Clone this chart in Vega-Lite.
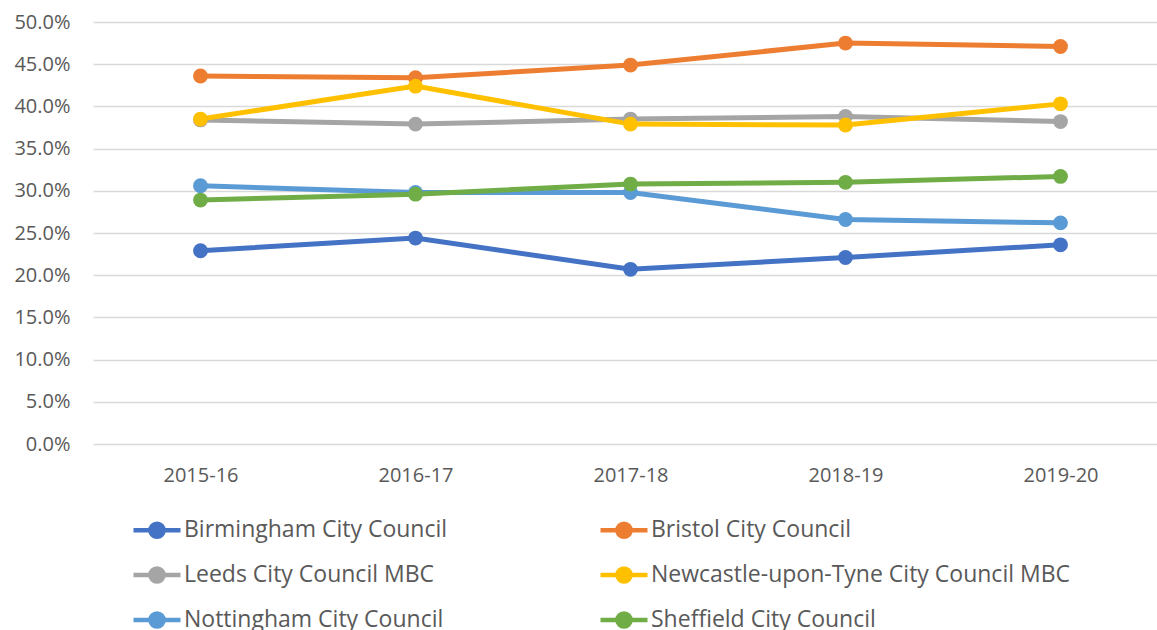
{
  "$schema": "https://vega.github.io/schema/vega-lite/v6.json",
  "autosize": {"type": "none"},
  "padding": {"left": 93, "top": 22, "right": 0, "bottom": 186},
  "width": 1075,
  "height": 422,
  "background": "white",
  "config": {"view": {"stroke": null}, "font": "Open Sans"},
  "data": {"values": [
    {"year": "2015-16", "council": "Birmingham City Council", "value": 0.229},
    {"year": "2016-17", "council": "Birmingham City Council", "value": 0.244},
    {"year": "2017-18", "council": "Birmingham City Council", "value": 0.207},
    {"year": "2018-19", "council": "Birmingham City Council", "value": 0.221},
    {"year": "2019-20", "council": "Birmingham City Council", "value": 0.236},
    {"year": "2015-16", "council": "Bristol City Council", "value": 0.436},
    {"year": "2016-17", "council": "Bristol City Council", "value": 0.434},
    {"year": "2017-18", "council": "Bristol City Council", "value": 0.449},
    {"year": "2018-19", "council": "Bristol City Council", "value": 0.475},
    {"year": "2019-20", "council": "Bristol City Council", "value": 0.471},
    {"year": "2015-16", "council": "Leeds City Council MBC", "value": 0.384},
    {"year": "2016-17", "council": "Leeds City Council MBC", "value": 0.379},
    {"year": "2017-18", "council": "Leeds City Council MBC", "value": 0.385},
    {"year": "2018-19", "council": "Leeds City Council MBC", "value": 0.388},
    {"year": "2019-20", "council": "Leeds City Council MBC", "value": 0.382},
    {"year": "2015-16", "council": "Newcastle-upon-Tyne City Council MBC", "value": 0.385},
    {"year": "2016-17", "council": "Newcastle-upon-Tyne City Council MBC", "value": 0.424},
    {"year": "2017-18", "council": "Newcastle-upon-Tyne City Council MBC", "value": 0.379},
    {"year": "2018-19", "council": "Newcastle-upon-Tyne City Council MBC", "value": 0.378},
    {"year": "2019-20", "council": "Newcastle-upon-Tyne City Council MBC", "value": 0.403},
    {"year": "2015-16", "council": "Nottingham City Council", "value": 0.306},
    {"year": "2016-17", "council": "Nottingham City Council", "value": 0.298},
    {"year": "2017-18", "council": "Nottingham City Council", "value": 0.298},
    {"year": "2018-19", "council": "Nottingham City Council", "value": 0.266},
    {"year": "2019-20", "council": "Nottingham City Council", "value": 0.262},
    {"year": "2015-16", "council": "Sheffield City Council", "value": 0.289},
    {"year": "2016-17", "council": "Sheffield City Council", "value": 0.296},
    {"year": "2017-18", "council": "Sheffield City Council", "value": 0.308},
    {"year": "2018-19", "council": "Sheffield City Council", "value": 0.310},
    {"year": "2019-20", "council": "Sheffield City Council", "value": 0.317}
  ]},
  "encoding": {
    "x": {"field": "year", "type": "ordinal",
      "scale": {"type": "point", "padding": 0.5},
      "axis": {"title": null, "labelAngle": 0, "domain": false, "ticks": false, "grid": false,
        "labelFontSize": 20, "labelColor": "#595959", "labelPadding": 21}},
    "y": {"field": "value", "type": "quantitative",
      "scale": {"domain": [0, 0.5], "nice": false, "zero": true},
      "axis": {"title": null, "format": ".1%", "values": [0, 0.05, 0.1, 0.15, 0.2, 0.25, 0.3, 0.35, 0.4, 0.45, 0.5],
        "domain": false, "ticks": false, "gridColor": "#D9D9D9", "gridWidth": 1.5,
        "labelFontSize": 20, "labelColor": "#595959", "labelPadding": 23}},
    "color": {"field": "council", "type": "nominal",
      "scale": {
        "domain": ["Birmingham City Council", "Bristol City Council", "Leeds City Council MBC", "Newcastle-upon-Tyne City Council MBC", "Nottingham City Council", "Sheffield City Council"],
        "range": ["#4472C4", "#ED7D31", "#A5A5A5", "#FFC000", "#5B9BD5", "#70AD47"]},
      "legend": {
        "title": null, "orient": "none", "legendX": 38, "legendY": 482,
        "direction": "horizontal",
        "columns": 2, "columnPadding": 143, "rowPadding": 3,
        "symbolType": "M-1,0L-0.28,0M0.28,0L1,0M-0.28,0A0.28,0.28,0,1,1,0.28,0A0.28,0.28,0,1,1,-0.28,0Z",
        "symbolSize": 2209, "symbolStrokeWidth": 4.5, "symbolOpacity": 1,
        "labelFontSize": 23, "labelColor": "#595959", "labelLimit": 800, "labelOffset": 1,
        "encode": {"symbols": {"update": {
          "stroke": {"scale": "color", "field": "value"},
          "fill": {"scale": "color", "field": "value"},
          "strokeWidth": {"value": 4.5},
          "opacity": {"value": 1}}}}
      }}
  },
  "layer": [
    {"mark": {"type": "line", "strokeWidth": 5}},
    {"mark": {"type": "point", "filled": true, "size": 220, "opacity": 1}}
  ]
}
